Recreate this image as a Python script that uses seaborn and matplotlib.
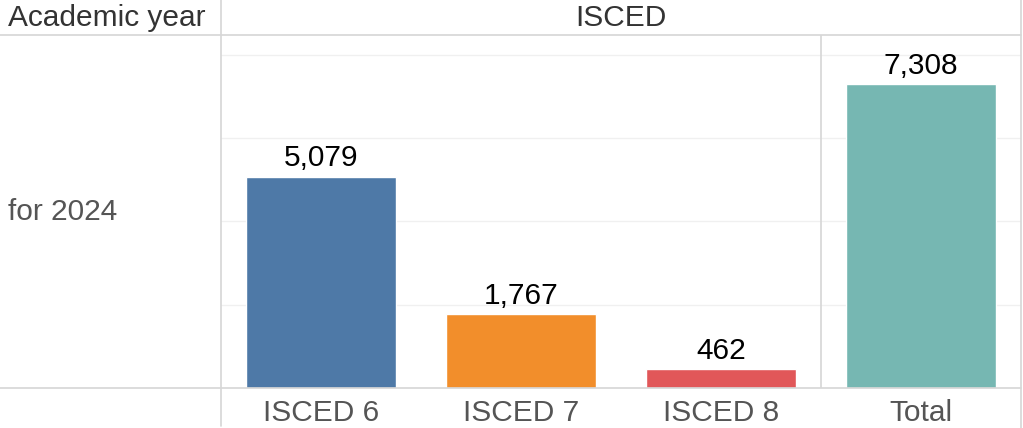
import matplotlib.pyplot as plt
import pandas as pd
import seaborn as sns
from matplotlib.lines import Line2D

categories = ["ISCED 6", "ISCED 7", "ISCED 8", "Total"]
values = [5079, 1767, 462, 7308]
colors = ["#4e79a7", "#f28e2b", "#e15759", "#76b7b2"]
row_label = "for 2024"
header_left = "Academic year"
header_top = "ISCED"
grid_ticks = [2000, 4000, 6000, 8000]

W, H = 1023, 428
BORDER = "#d6d6d6"
GRID = "#f0f0f0"
FS = 21.5

sns.set_theme(style="white")
plt.rcParams["font.family"] = ["Liberation Sans", "DejaVu Sans"]

df = pd.DataFrame({"level": categories, "students": values})

fig = plt.figure(figsize=(W / 100, H / 100), dpi=100)
left, right, top, bottom = 221, 1021, 35, 388
ax = fig.add_axes([left / W, 1 - bottom / H, (right - left) / W, (bottom - top) / H])

sns.barplot(
    data=df, x="level", y="students", hue="level", palette=colors,
    width=0.75, legend=False, ax=ax, saturation=1,
)
ax.set_ylim(0, 8480)
ax.set_xlim(-0.5, len(categories) - 0.5)
for tick in grid_ticks:
    ax.axhline(tick, color=GRID, lw=1, zorder=0)
ax.axvline(2.5, color=BORDER, lw=1.2, zorder=0)

for container in ax.containers:
    ax.bar_label(container, fmt="{:,.0f}", padding=3, fontsize=FS, color="black")

for side in ax.spines.values():
    side.set_visible(False)
ax.set_yticks([])
ax.set_xlabel("")
ax.set_ylabel("")
ax.tick_params(axis="x", length=0, pad=8, labelsize=FS, labelcolor="#555555")

def fig_line(x0, y0, x1, y1):
    fig.add_artist(Line2D([x0 / W, x1 / W], [1 - y0 / H, 1 - y1 / H],
                          color=BORDER, lw=1.2, transform=fig.transFigure))

fig_line(0, top, right, top)
fig_line(0, bottom, right, bottom)
fig_line(left, 0, left, 426)
fig_line(right, 0, right, H)

fig.text(8 / W, 1 - 18 / H, header_left, fontsize=FS, color="#333333", va="center", ha="left")
fig.text((left + right) / 2 / W, 1 - 18 / H, header_top, fontsize=FS, color="#333333",
         va="center", ha="center")
fig.text(8 / W, 1 - 212 / H, row_label, fontsize=FS, color="#555555", va="center", ha="left")

fig.savefig("out.png", dpi=100)
